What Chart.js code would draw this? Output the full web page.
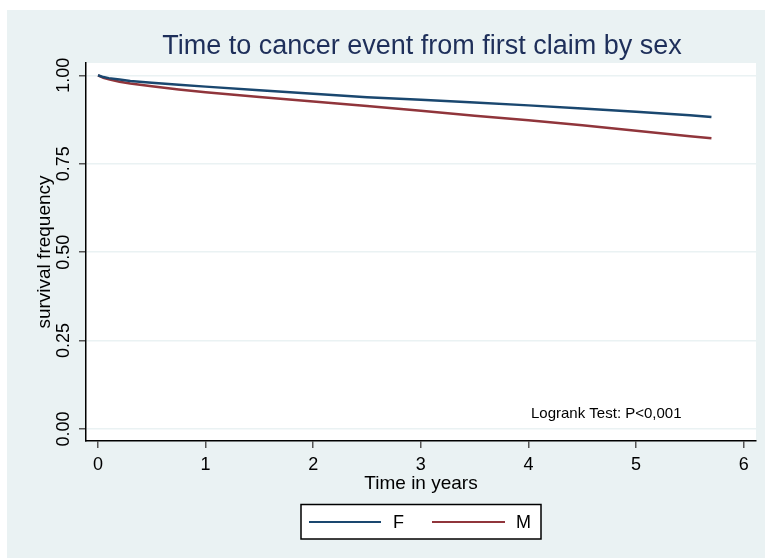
<!DOCTYPE html>
<html>
<head>
<meta charset="utf-8">
<script src="https://cdn.jsdelivr.net/npm/chart.js@4/dist/chart.umd.min.js"></script>
<style>
  html, body { margin: 0; padding: 0; background: #fff; }
  canvas { display: block; }
</style>
</head>
<body>
<canvas id="km" width="765" height="558"></canvas>
<script>
// Kaplan-Meier estimates
const times = [0, 0.05, 0.1, 0.2, 0.3, 0.5, 0.75, 1, 1.5, 2, 2.5, 3, 3.5, 4, 4.5, 5, 5.5, 5.7];
const survF = [1.000, 0.995, 0.992, 0.988, 0.984, 0.979, 0.973, 0.968, 0.958, 0.948, 0.938, 0.931, 0.923, 0.915, 0.906, 0.897, 0.887, 0.882];
const survM = [1.000, 0.993, 0.989, 0.982, 0.977, 0.969, 0.960, 0.952, 0.939, 0.926, 0.913, 0.900, 0.886, 0.873, 0.859, 0.843, 0.828, 0.822];
const seriesNames = ["F", "M"];
const xTicks = [0, 1, 2, 3, 4, 5, 6];
const yTicks = [0, 0.25, 0.5, 0.75, 1];

const chartTitle = "Time to cancer event from first claim by sex";
const noteText = "Logrank Test: P<0,001";

const FONT = "'Liberation Sans', Arial, Helvetica, sans-serif";
const BG = "#eaf2f3";
const colors = ["#1a476f", "#90353b"];

const toPoints = (ys) => times.map((t, i) => ({ x: t, y: ys[i] }));

// background, plot region
const backdrop = {
  id: "backdrop",
  beforeDraw(chart) {
    const { ctx, chartArea: a } = chart;
    ctx.save();
    ctx.fillStyle = "#fff";
    ctx.fillRect(0, 0, chart.width, chart.height);
    ctx.fillStyle = BG;
    ctx.fillRect(7, 10, chart.width - 7, chart.height - 10);
    ctx.fillStyle = "#fff";
    ctx.fillRect(a.left, a.top, a.right - a.left, a.bottom - a.top);
    ctx.restore();
  },
};

// title, note and legend box
const extras = {
  id: "extras",
  afterDraw(chart) {
    const { ctx } = chart;
    ctx.save();
    ctx.fillStyle = "#1e2f5a";
    ctx.font = "27px " + FONT;
    ctx.textAlign = "center";
    ctx.textBaseline = "alphabetic";
    ctx.fillText(chartTitle, 422, 54);

    ctx.fillStyle = "#000";
    ctx.font = "15px " + FONT;
    ctx.textAlign = "left";
    ctx.fillText(noteText, 531, 418);

    // legend
    ctx.fillStyle = "#fff";
    ctx.fillRect(301, 504.5, 240, 34.5);
    ctx.strokeStyle = "#000";
    ctx.lineWidth = 1.5;
    ctx.strokeRect(301, 504.5, 240, 34.5);
    const items = [
      { x0: 309, x1: 381, tx: 393 },
      { x0: 432, x1: 505, tx: 516 },
    ];
    ctx.font = "18px " + FONT;
    ctx.textBaseline = "middle";
    items.forEach((it, i) => {
      ctx.strokeStyle = colors[i];
      ctx.lineWidth = 2;
      ctx.beginPath();
      ctx.moveTo(it.x0, 522);
      ctx.lineTo(it.x1, 522);
      ctx.stroke();
      ctx.fillStyle = "#000";
      ctx.fillText(seriesNames[i], it.tx, 523);
    });
    ctx.restore();
  },
};

new Chart(document.getElementById("km"), {
  type: "line",
  data: {
    datasets: [
      { label: seriesNames[0], data: toPoints(survF), borderColor: colors[0] },
      { label: seriesNames[1], data: toPoints(survM), borderColor: colors[1] },
    ],
  },
  options: {
    responsive: false,
    animation: false,
    devicePixelRatio: 1,
    layout: { padding: { left: 10, top: 63, right: 9, bottom: 57 } },
    elements: {
      line: { borderWidth: 2.5, tension: 0, fill: false },
      point: { radius: 0 },
    },
    plugins: {
      legend: { display: false },
      tooltip: { enabled: false },
    },
    scales: {
      x: {
        type: "linear",
        min: -0.1115,
        max: 6.114,
        afterFit(scale) { scale.height = 60; },
        afterBuildTicks(scale) { scale.ticks = xTicks.map((v) => ({ value: v })); },
        grid: { drawOnChartArea: false, drawTicks: true, tickLength: 7, tickColor: "#555", lineWidth: 1.5 },
        border: { display: true, color: "#000", width: 1.5 },
        ticks: {
          color: "#000",
          font: { family: FONT, size: 18 },
          padding: 6,
          maxRotation: 0,
          callback: (v) => String(v),
        },
        title: {
          display: true,
          text: "Time in years",
          color: "#000",
          font: { family: FONT, size: 19 },
          padding: { top: 0, bottom: 6 },
        },
      },
      y: {
        type: "linear",
        min: -0.0339,
        max: 1.0348,
        afterFit(scale) { scale.width = 76; },
        afterBuildTicks(scale) { scale.ticks = yTicks.map((v) => ({ value: v })); },
        grid: { color: BG, lineWidth: 1.5, tickLength: 7, tickColor: "#555" },
        border: { display: true, color: "#000", width: 1.5 },
        ticks: {
          color: "#000",
          font: { family: FONT, size: 18 },
          padding: -3,
          minRotation: 90,
          maxRotation: 90,
          crossAlign: "center",
          callback: (v) => Number(v).toFixed(2),
        },
        title: {
          display: true,
          text: "survival frequency",
          color: "#000",
          font: { family: FONT, size: 19 },
          padding: { top: 23, bottom: 0 },
        },
      },
    },
  },
  plugins: [backdrop, extras],
});
</script>
</body>
</html>
